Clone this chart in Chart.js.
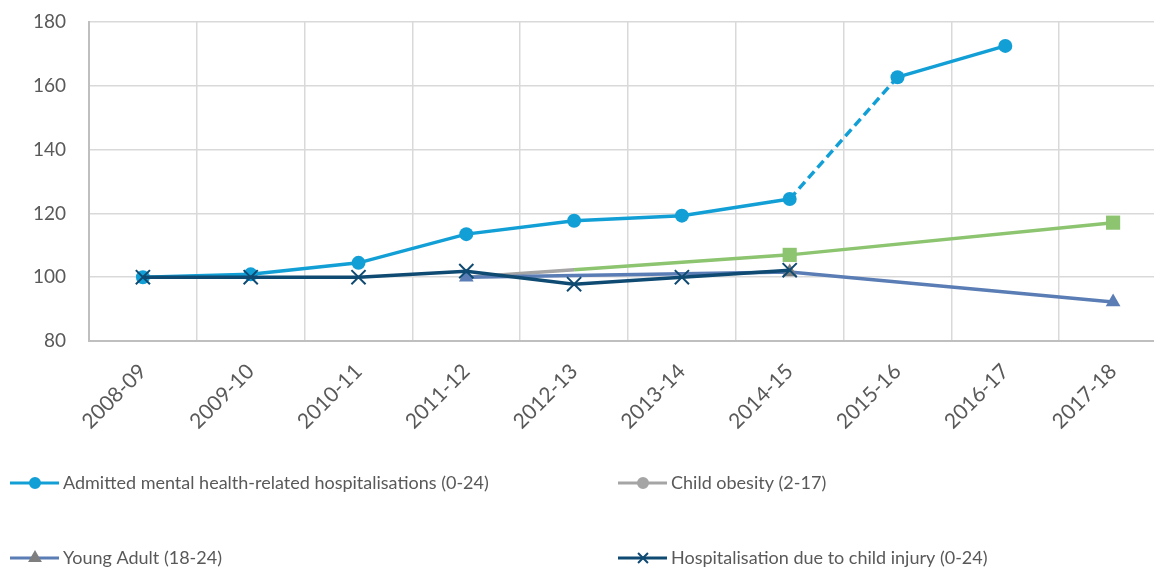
<!DOCTYPE html>
<html>
<head>
<meta charset="utf-8">
<script src="https://cdn.jsdelivr.net/npm/chart.js@4.4.1/dist/chart.umd.min.js"></script>
<style>
  html, body { margin: 0; padding: 0; background: #fff; overflow: hidden; }
  #wrap { position: relative; width: 1179px; height: 567px; }
  #chart { display: block; }
</style>
</head>
<body>
<div id="wrap"><canvas id="chart" width="1179" height="567"></canvas></div>
<script>
// data
const years = ['2008-09', '2009-10', '2010-11', '2011-12', '2012-13', '2013-14', '2014-15', '2015-16', '2016-17', '2017-18'];
const mentalHealth = [100, 100.9, 104.5, 113.5, 117.7, 119.3, 124.5, 162.7, 172.5, null];
const childObesity = [null, null, null, 100, 102.3, null, 107, null, null, 117.1];
const youngAdult = [null, null, null, 100, null, null, 101.6, null, null, 92.2];
const childInjury = [100, 100, 100, 101.9, 97.8, 100, 102.2, null, null, null];
const yMin = 80, yMax = 180, yStep = 20;

const FONT = 'Lato, "Open Sans", sans-serif';
const TEXT = '#595959';
const BLUE = '#129fd6', GREY = '#a5a5a5', GREEN = '#8cc46f', STEEL = '#5a7db5', DARKGREY = '#7f7f7f', NAVY = '#0e4a72';

// legend drawn Excel style: short line with the marker in the middle
const legendSpec = [
  { ds: 0, x: 10, y: 483, line: BLUE, style: 'circle', r: 5, fill: BLUE },
  { ds: 1, x: 618, y: 483, line: GREY, style: 'circle', r: 5, fill: GREY },
  { ds: 2, x: 10, y: 558, line: STEEL, style: 'triangle', r: 6, fill: DARKGREY },
  { ds: 3, x: 618, y: 558, line: NAVY, style: 'crossRot', r: 7, fill: NAVY }
];

const excelLegend = {
  id: 'excelLegend',
  afterDraw(chart) {
    const ctx = chart.ctx;
    ctx.save();
    legendSpec.forEach(it => {
      ctx.strokeStyle = it.line;
      ctx.lineWidth = 3;
      ctx.beginPath();
      ctx.moveTo(it.x, it.y);
      ctx.lineTo(it.x + 49, it.y);
      ctx.stroke();
      ctx.fillStyle = it.fill;
      ctx.strokeStyle = it.fill;
      ctx.lineWidth = 2;
      Chart.helpers.drawPoint(ctx, { pointStyle: it.style, radius: it.r, borderWidth: 2, rotation: 0 }, it.x + 25, it.y);
      ctx.fillStyle = TEXT;
      ctx.font = '18px ' + FONT;
      ctx.textBaseline = 'middle';
      ctx.textAlign = 'left';
      ctx.fillText(chart.data.datasets[it.ds].label, it.x + 53, it.y);
    });
    ctx.restore();
  }
};

const config = {
  type: 'line',
  data: {
    labels: years,
    datasets: [
      {
        label: 'Admitted mental health-related hospitalisations (0-24)',
        data: mentalHealth,
        borderColor: BLUE,
        backgroundColor: BLUE,
        borderWidth: 3.5,
        pointStyle: 'circle',
        pointRadius: 7,
        pointBorderWidth: 0,
        segment: {
          borderDash: c => (c.p0DataIndex === 6 ? [9, 5] : undefined)
        },
        order: 1
      },
      {
        label: 'Child obesity (2-17)',
        data: childObesity,
        borderColor: GREEN,
        backgroundColor: GREEN,
        borderWidth: 3.5,
        spanGaps: true,
        pointStyle: 'rect',
        pointRadius: [0, 0, 0, 0, 0, 0, 10, 0, 0, 10],
        pointBorderWidth: 0,
        segment: {
          borderColor: c => (c.p0DataIndex === 3 ? GREY : GREEN)
        },
        order: 3
      },
      {
        label: 'Young Adult (18-24)',
        data: youngAdult,
        borderColor: STEEL,
        backgroundColor: [STEEL, STEEL, STEEL, STEEL, STEEL, STEEL, DARKGREY, STEEL, STEEL, STEEL],
        borderWidth: 3.5,
        spanGaps: true,
        pointStyle: 'triangle',
        pointRadius: 8.5,
        pointBorderWidth: 0,
        order: 2
      },
      {
        label: 'Hospitalisation due to child injury (0-24)',
        data: childInjury,
        borderColor: NAVY,
        backgroundColor: NAVY,
        borderWidth: 3.5,
        pointStyle: 'crossRot',
        pointRadius: 10,
        pointBorderWidth: 2,
        order: 0
      }
    ]
  },
  options: {
    responsive: false,
    animation: false,
    layout: { padding: { top: 22, left: 0, right: 0, bottom: 0 } },
    plugins: {
      legend: { display: false },
      tooltip: { enabled: false }
    },
    elements: { line: { tension: 0 } },
    scales: {
      x: {
        offset: true,
        grid: { color: '#d9d9d9', lineWidth: 1.5, offset: true, drawTicks: false },
        border: { color: '#bfbfbf', width: 2 },
        ticks: {
          autoSkip: false,
          maxRotation: 45,
          minRotation: 45,
          padding: 18,
          color: TEXT,
          font: { family: FONT, size: 21 }
        },
        afterFit(scale) { scale.height = 226; }
      },
      y: {
        min: yMin,
        max: yMax,
        // invisible tick marks give the gap between labels and axis
        grid: { color: '#d9d9d9', lineWidth: 1.5, drawTicks: true, tickLength: 20, tickColor: 'rgba(0,0,0,0)' },
        border: { color: '#bfbfbf', width: 2 },
        ticks: {
          stepSize: yStep,
          padding: 3,
          color: TEXT,
          font: { family: FONT, size: 19 }
        },
        afterFit(scale) { scale.width = 89; }
      }
    }
  },
  plugins: [excelLegend]
};

const ctx = document.getElementById('chart').getContext('2d');
new Chart(ctx, config);
</script>
</body>
</html>
